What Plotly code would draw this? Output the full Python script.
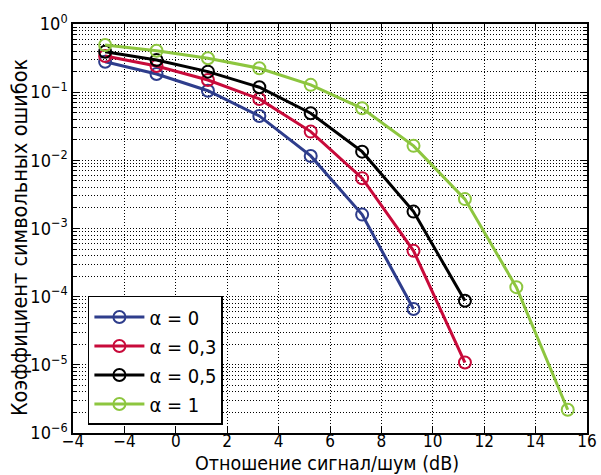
import plotly.graph_objects as go

snr = [-2.75, -0.75, 1.25, 3.25, 5.25, 7.25, 9.25, 11.25, 13.25, 15.25]
ser_a0 = [0.28, 0.185, 0.105, 0.0448, 0.0116, 0.0016, 6.6e-5]
ser_a03 = [0.34, 0.242, 0.151, 0.0795, 0.0264, 0.00546, 4.7e-4, 1.08e-5]
ser_a05 = [0.392, 0.297, 0.2, 0.118, 0.049, 0.0134, 0.00177, 8.7e-5]
ser_a1 = [0.492, 0.406, 0.314, 0.224, 0.128, 0.058, 0.0163, 0.0027, 1.38e-4, 2.19e-6]

names = ["α = 0", "α = 0,3", "α = 0,5", "α = 1"]
colors = ["#2e3d8c", "#c80a3a", "#000000", "#8dc63f"]
series = [ser_a0, ser_a03, ser_a05, ser_a1]

x_tickvals = [-4, -2, 0, 2, 4, 6, 8, 10, 12, 14, 16]
x_ticktext = ["−4", "−4", "0", "2", "4", "6", "8", "10", "12", "14", "16"]
y_tickvals = [1, 1e-1, 1e-2, 1e-3, 1e-4, 1e-5, 1e-6]
y_ticktext = ["10<sup>0</sup>", "10<sup>−1</sup>", "10<sup>−2</sup>", "10<sup>−3</sup>",
              "10<sup>−4</sup>", "10<sup>−5</sup>", "10<sup>−6</sup>"]
y_minor = [m * 10.0 ** e for e in range(-6, 0) for m in range(2, 10)]

x_title = "Отношение сигнал/шум (dB)"
y_title = "Коэффициент символьных ошибок"

font = "DejaVu Sans Condensed, Liberation Sans Narrow, sans-serif"

fig = go.Figure()
for name, col, ys in zip(names, colors, series):
    fig.add_trace(go.Scatter(
        x=snr[:len(ys)], y=ys, name=name, mode="lines+markers",
        line=dict(color=col, width=3),
        marker=dict(symbol="circle-open", size=12, color=col, line=dict(width=2, color=col)),
    ))

fig.update_layout(
    width=601, height=475,
    margin=dict(l=73, r=14, t=24, b=42),
    paper_bgcolor="white", plot_bgcolor="white",
    font=dict(family=font, size=18, color="black"),
    showlegend=True,
    legend=dict(x=0.029, y=0.335, xanchor="left", yanchor="top",
                bordercolor="black", borderwidth=1.5, bgcolor="white",
                font=dict(size=20, family=font), tracegroupgap=0,
                itemwidth=50),
    annotations=[
        dict(text=x_title, xref="paper", yref="paper", x=0.495, y=-0.074,
             xanchor="center", yanchor="middle", showarrow=False,
             font=dict(size=19.5, family=font, color="black")),
        dict(text=y_title, xref="paper", yref="paper", x=-0.105, y=0.479,
             xanchor="center", yanchor="middle", showarrow=False, textangle=-90,
             font=dict(size=21.5, family=font, color="black")),
    ],
)
fig.update_xaxes(
    range=[-4, 16], tickmode="array", tickvals=x_tickvals, ticktext=x_ticktext,
    showline=True, linecolor="black", linewidth=1.5, mirror="ticks",
    ticks="inside", ticklen=6, tickcolor="black", tickwidth=1,
    showgrid=True, gridcolor="black", griddash="1px,2px", gridwidth=1,
    zeroline=False, automargin=False, ticklabelstandoff=-8,
    tickfont=dict(size=17, family=font),
)
fig.update_yaxes(
    type="log", range=[-6, 0], tickmode="array", tickvals=y_tickvals, ticktext=y_ticktext,
    showline=True, linecolor="black", linewidth=1.5, mirror="ticks",
    ticks="inside", ticklen=6, tickcolor="black", tickwidth=1,
    showgrid=True, gridcolor="black", griddash="1px,2px", gridwidth=1,
    zeroline=False, automargin=False,
    minor=dict(tickmode="array", tickvals=y_minor, ticks="inside", ticklen=4,
               tickcolor="black", showgrid=True, gridcolor="black", griddash="1px,2px", gridwidth=1),
    tickfont=dict(size=18, family=font),
)

fig.write_html("out.html")
